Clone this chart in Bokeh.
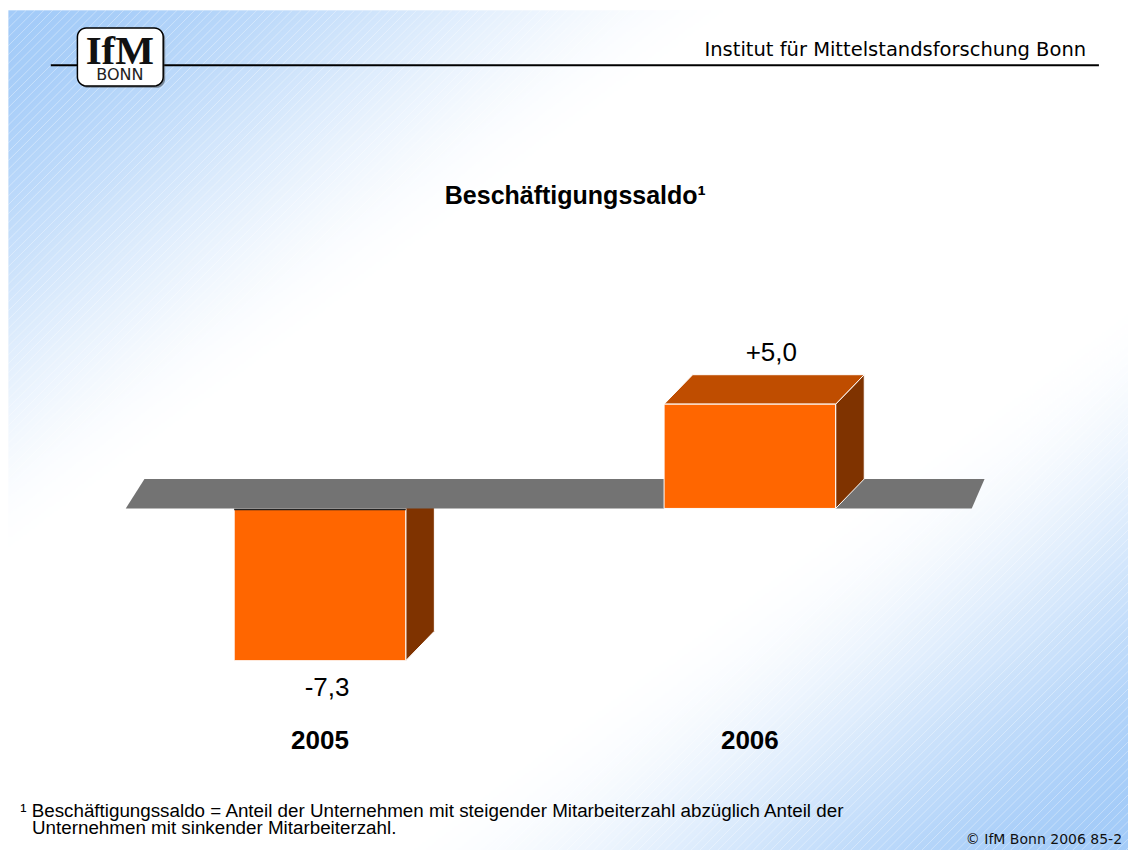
import numpy as np
from bokeh.plotting import figure
from bokeh.models import Range1d
from bokeh.core.properties import value
from bokeh.embed import file_html
from bokeh.resources import INLINE

# ---------------- data ----------------
years = ["2005", "2006"]
saldo = [-7.3, 5.0]

chart_title = "Beschäftigungssaldo¹"
header_text = "Institut für Mittelstandsforschung Bonn"
logo_top = "IfM"
logo_bottom = "BONN"
footnote_lines = [
    "¹ Beschäftigungssaldo = Anteil der Unternehmen mit steigender Mitarbeiterzahl abzüglich Anteil der",
    "Unternehmen mit sinkender Mitarbeiterzahl.",
]
copyright_text = "© IfM Bonn 2006  85-2"

# ---------------- geometry ----------------
W, H = 1128, 850               # figure size
RW, RH = 1144, 866             # design canvas (page pixels)
CAT0_PX, CAT_STEP_PX = 324.0, 436.0      # category index -> design x
ZERO_PX, UNIT_PX = 517.5, 21.25          # value -> design y


def dx(px):
    return (np.asarray(px, dtype=float) - CAT0_PX) / CAT_STEP_PX


def dy(py):
    return (ZERO_PX - np.asarray(py, dtype=float)) / UNIT_PX


def mid(baseline, size):
    # vertical centre of capitals for a given baseline
    return float(dy(baseline - 0.36 * size))


BAR_W = 174 / CAT_STEP_PX
DEPTH_X = 29 / CAT_STEP_PX
DEPTH_Y = 30 / UNIT_PX

FRONT = "#FF6600"
TOP = "#BF4D00"
SIDE = "#7F3300"
FLOOR = "#737373"
SANS = value("Liberation Sans")

p = figure(width=W, height=H, output_backend="svg", toolbar_location=None,
           x_range=Range1d(float(dx(0)), float(dx(RW))),
           y_range=Range1d(float(dy(RH)), float(dy(0))),
           x_axis_type=None, y_axis_type=None, min_border=0)
p.grid.visible = False
p.outline_line_color = None
p.background_fill_color = "white"
p.border_fill_color = "white"

# ---------------- background gradient ----------------
BX0, BY0 = 8, 10
BW, BH = RW - BX0, RH - BY0
NX, NY = BW // 2, BH // 2
gx = (np.arange(NX) + 0.5) / NX
gy = (np.arange(NY) + 0.5) / NY
GX, GY = np.meshgrid(gx, gy)
t = (GX + GY) / 2
whit = 1 - np.abs(2 * t - 1)
f = np.clip(whit * 1.5, 0, 1)
f = f * f * (3 - 2 * f)
blue = np.array([163, 203, 248], dtype=float)
white = np.array([255, 255, 255], dtype=float)
rgb = blue[None, None, :] + (white - blue)[None, None, :] * f[..., None]
img = np.empty((NY, NX), dtype=np.uint32)
view = img.view(dtype=np.uint8).reshape((NY, NX, 4))
view[..., 0:3] = np.round(rgb).astype(np.uint8)
view[..., 3] = 255
img = np.ascontiguousarray(img[::-1])
p.image_rgba(image=[img], x=float(dx(BX0)), y=float(dy(RH)),
             dw=float(dx(RW) - dx(BX0)), dh=float(dy(BY0) - dy(RH)))

# faint diagonal stripes
cs = np.arange(BX0 + BY0, RW + RH, 9)
sx0 = np.maximum(BX0, cs - RH)
sy0 = cs - sx0
sx1 = np.minimum(RW, cs - BY0)
sy1 = cs - sx1
p.segment(dx(sx0), dy(sy0), dx(sx1), dy(sy1), line_color="white",
          line_alpha=0.35, line_width=1)

# ---------------- header ----------------
p.line(dx([51, 1114]), dy([66, 66]), line_color="black", line_width=2)


def rounded_rect(x0, y0, x1, y1, r, n=8):
    pts = []
    corners = [(x1 - r, y0 + r, -90, 0), (x1 - r, y1 - r, 0, 90),
               (x0 + r, y1 - r, 90, 180), (x0 + r, y0 + r, 180, 270)]
    for cx, cy, a0, a1 in corners:
        for a in np.linspace(np.radians(a0), np.radians(a1), n):
            pts.append((cx + r * np.cos(a), cy + r * np.sin(a)))
    xs, ys = zip(*pts)
    return dx(xs), dy(ys)


shx, shy = rounded_rect(80, 30, 167, 89, 9)
p.patch(shx, shy, fill_color="#333333", fill_alpha=0.5, line_color=None)
lx, ly = rounded_rect(78, 28, 165, 87, 9)
p.patch(lx, ly, fill_color="white", line_color="black", line_width=1.5)
p.text(x=[float(dx(121))], y=[mid(65, 41)], text=[logo_top],
       text_font=value("Liberation Serif"), text_font_style="bold",
       text_font_size="41px", text_align="center", text_baseline="middle",
       text_color="#111111")
p.text(x=[float(dx(121))], y=[mid(81, 16)], text=[logo_bottom],
       text_font=value("DejaVu Sans"), text_font_size="16px",
       text_align="center", text_baseline="middle", text_color="#222222")
p.text(x=[float(dx(1101))], y=[mid(57, 19.5)], text=[header_text],
       text_font=value("DejaVu Sans"), text_font_size="19.5px",
       text_align="right", text_baseline="middle", text_color="black")

# ---------------- title ----------------
p.text(x=[float(dx(583))], y=[mid(207, 25)], text=[chart_title],
       text_font=SANS, text_font_style="bold", text_font_size="25px",
       text_align="center", text_baseline="middle", text_color="black")


# ---------------- 3D bars ----------------
def box_faces(i, v):
    lo, hi = min(0.0, v), max(0.0, v)
    l, r = i - BAR_W / 2, i + BAR_W / 2
    front = ([l, r, r, l], [lo, lo, hi, hi])
    top = ([l, l + DEPTH_X, r + DEPTH_X, r], [hi, hi + DEPTH_Y, hi + DEPTH_Y, hi])
    side = ([r, r, r + DEPTH_X, r + DEPTH_X], [lo, hi, hi + DEPTH_Y, lo + DEPTH_Y])
    return front, top, side


def draw_box(i, v):
    front, top, side = box_faces(i, v)
    p.patch(side[0], side[1], fill_color=SIDE, line_color="white", line_width=1)
    p.patch(top[0], top[1], fill_color=TOP, line_color="white", line_width=1)
    p.patch(front[0], front[1], fill_color=FRONT, line_color="white", line_width=1)


idx = list(range(len(years)))
for i, v in zip(idx, saldo):
    if v < 0:
        draw_box(i, v)

# floor slab at value 0
p.patch(dx([127, 146, 998, 985]), [0, DEPTH_Y, DEPTH_Y, 0],
        fill_color=FLOOR, line_color=None)
# dark under-edge of the floor
p.line(dx([237, 411]), [-1.2 / UNIT_PX] * 2, line_color="#222222", line_width=1.5)

for i, v in zip(idx, saldo):
    if v >= 0:
        draw_box(i, v)

# value labels
VAL_SIZE = 26
lab_x, lab_y, lab_t = [], [], []
for i, v in zip(idx, saldo):
    txt = ("%+.1f" % v).replace(".", ",")
    if v >= 0:
        lab_x.append(i + DEPTH_X * 0.75)
        base = v + DEPTH_Y + 14 / UNIT_PX
    else:
        lab_x.append(i + DEPTH_X * 0.25)
        base = v - 36 / UNIT_PX
    lab_y.append(base + 0.36 * VAL_SIZE / UNIT_PX)
    lab_t.append(txt)
p.text(x=lab_x, y=lab_y, text=lab_t, text_font=SANS,
       text_font_size="%dpx" % VAL_SIZE, text_align="center",
       text_baseline="middle", text_color="black")

# category labels
p.text(x=idx, y=[mid(763, 26)] * len(idx), text=years, text_font=SANS,
       text_font_style="bold", text_font_size="26px", text_align="center",
       text_baseline="middle", text_color="black")

# ---------------- footnote ----------------
p.text(x=[float(dx(20)), float(dx(32))], y=[mid(832, 18.8), mid(849, 18.8)],
       text=footnote_lines, text_font=SANS, text_font_size="18.8px",
       text_align="left", text_baseline="middle", text_color="black")
p.text(x=[float(dx(1142))], y=[mid(859, 14)], text=[copyright_text],
       text_font=value("DejaVu Sans"), text_font_size="14px",
       text_align="right", text_baseline="middle", text_color="#111111")

open("out.html", "w").write(file_html(p, INLINE))
